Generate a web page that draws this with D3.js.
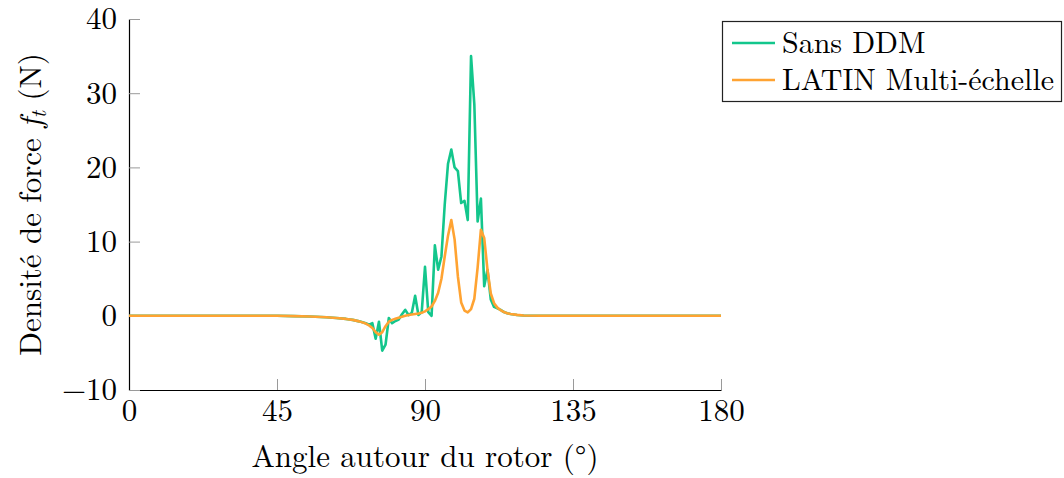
<!DOCTYPE html>
<html>
<head>
<meta charset="utf-8">
<script src="https://cdn.jsdelivr.net/npm/d3@7"></script>
<style>
  body { margin: 0; background: #fff; }
  svg { display: block; }
</style>
</head>
<body>
<svg id="chart"></svg>
<script>
// angles (deg) and values (N)
const sansAngles = [0, 10, 20, 30, 40, 45, 50, 55, 60, 63, 66, 68, 70, 72, 73, 74, 75, 76, 77, 78, 79, 80, 81, 82, 83, 84, 85, 86, 87, 88, 89, 90, 91, 92, 93, 94, 95, 96, 97, 98, 99, 100, 101, 102, 103, 104, 105, 106, 107, 108, 109, 110, 111, 112, 113, 114, 115, 116, 118, 120, 125, 130, 140, 150, 160, 170, 180];
const sansValues = [0, 0, 0, 0, 0, 0, -0.05, -0.1, -0.2, -0.3, -0.42, -0.55, -0.75, -1.0, -1.2, -1.0, -3.1, -0.8, -4.7, -3.9, -0.3, -1.0, -0.7, -0.5, 0.2, 0.8, 0.1, 0.4, 2.7, 0.1, 0.5, 6.6, 0.5, 0.0, 9.5, 6.2, 8.0, 15.0, 20.5, 22.4, 20.0, 19.5, 15.2, 15.5, 12.9, 35.0, 28.5, 12.7, 15.8, 4.0, 6.2, 2.2, 1.2, 1.0, 0.8, 0.5, 0.35, 0.25, 0.1, 0.05, 0, 0, 0, 0, 0, 0, 0];

const latinAngles = [0, 10, 20, 30, 40, 45, 50, 55, 60, 63, 66, 68, 70, 72, 73, 74, 75, 76, 77, 78, 79, 80, 81, 82, 83, 84, 85, 86, 87, 88, 89, 90, 91, 92, 93, 94, 95, 96, 97, 98, 99, 100, 101, 102, 103, 104, 105, 106, 107, 108, 109, 110, 111, 112, 113, 114, 115, 116, 118, 120, 125, 130, 140, 150, 160, 170, 180];
const latinValues = [0, 0, 0, 0, 0, 0, -0.05, -0.1, -0.2, -0.3, -0.42, -0.55, -0.75, -1.05, -1.3, -1.65, -2.2, -2.55, -2.2, -1.4, -0.8, -0.55, -0.4, -0.25, -0.12, 0, 0.1, 0.18, 0.25, 0.32, 0.42, 0.6, 0.9, 1.25, 2.0, 3.1, 5.0, 8.0, 10.8, 12.9, 10.3, 5.3, 1.8, 0.7, 0.45, 0.9, 2.3, 6.5, 11.6, 10.5, 6.2, 3.0, 1.7, 1.1, 0.75, 0.5, 0.35, 0.25, 0.12, 0.05, 0, 0, 0, 0, 0, 0, 0];

const seriesNames = ["Sans DDM", "LATIN Multi-échelle"];
const xTicks = [0, 45, 90, 135, 180];
const yTicks = [-10, 0, 10, 20, 30, 40];

const width = 1064;
const height = 478;
const margin = ({ top: 19, right: 343, bottom: 88, left: 129 });
const colors = ["#13c68c", "#ffa332"];
const font = '"Latin Modern Roman", "Liberation Serif", serif';
const fontSize = 31;

const svg = d3.select("#chart")
    .attr("width", width)
    .attr("height", height);

const xScale = d3.scaleLinear()
    .domain([0, 180])
    .range([margin.left, width - margin.right]);

const yScale = d3.scaleLinear()
    .domain([-10, 40])
    .range([height - margin.bottom, margin.top]);

const tickLen = 11;

// x axis (ticks pointing inward, grey)
const xAxis = g => g
    .attr("transform", `translate(0,${height - margin.bottom})`)
    .call(d3.axisBottom(xScale).tickValues(xTicks).tickSize(-tickLen).tickPadding(9)
        .tickFormat(d => d).tickSizeOuter(0))
    .call(g => g.select(".domain").attr("stroke", "#000").attr("stroke-width", 1.2))
    .call(g => g.selectAll(".tick line").attr("stroke", "#9a9a9a").attr("stroke-width", 1))
    .call(g => g.selectAll(".tick text").style("font-family", font).style("font-size", fontSize + "px")
        .attr("fill", "#000"));

const yAxis = g => g
    .attr("transform", `translate(${margin.left},0)`)
    .call(d3.axisLeft(yScale).tickValues(yTicks).tickSize(-tickLen).tickPadding(12)
        .tickFormat(d => d < 0 ? "\u2212" + Math.abs(d) : d).tickSizeOuter(0))
    .call(g => g.select(".domain").attr("stroke", "#000").attr("stroke-width", 1.2))
    .call(g => g.selectAll(".tick line").attr("stroke", "#9a9a9a").attr("stroke-width", 1))
    .call(g => g.selectAll(".tick text").style("font-family", font).style("font-size", fontSize + "px")
        .attr("fill", "#000"));

svg.append("g").call(xAxis);
svg.append("g").call(yAxis);

// the lines
const line = d3.line()
    .x(d => xScale(d[0]))
    .y(d => yScale(d[1]));

const sansData = sansAngles.map((a, i) => [a, sansValues[i]]);
const latinData = latinAngles.map((a, i) => [a, latinValues[i]]);

svg.append("path")
    .datum(sansData)
    .attr("fill", "none")
    .attr("stroke", colors[0])
    .attr("stroke-width", 2.6)
    .attr("stroke-linejoin", "round")
    .attr("d", line);

svg.append("path")
    .datum(latinData)
    .attr("fill", "none")
    .attr("stroke", colors[1])
    .attr("stroke-width", 2.6)
    .attr("stroke-linejoin", "round")
    .attr("d", line);

// axis titles
svg.append("text")
    .attr("x", xScale(90))
    .attr("y", 467)
    .attr("text-anchor", "middle")
    .style("font-family", font)
    .style("font-size", fontSize + "px")
    .text("Angle autour du rotor (°)");

const yTitle = svg.append("text")
    .attr("transform", `translate(41,${(yScale(40) + yScale(-10)) / 2}) rotate(-90)`)
    .attr("text-anchor", "middle")
    .style("font-family", font)
    .style("font-size", fontSize + "px");
yTitle.append("tspan").text("Densité de force ");
yTitle.append("tspan").attr("font-style", "italic").text("f");
yTitle.append("tspan").attr("font-style", "italic").style("font-size", "22px").attr("dy", 5).text("t");
yTitle.append("tspan").attr("dy", -5).text(" (N)");

// legend
const legend = svg.append("g");
legend.append("rect")
    .attr("x", 722.5).attr("y", 21.5)
    .attr("width", 339).attr("height", 80)
    .attr("fill", "#fff").attr("stroke", "#222").attr("stroke-width", 1.2);

seriesNames.forEach((name, i) => {
    const ly = 43 + i * 37;
    legend.append("line")
        .attr("x1", 732).attr("x2", 775)
        .attr("y1", ly).attr("y2", ly)
        .attr("stroke", colors[i]).attr("stroke-width", 2.6);
    legend.append("text")
        .attr("x", 782).attr("y", ly + 10)
        .style("font-family", font)
        .style("font-size", "30px")
        .text(name);
});
</script>
</body>
</html>
